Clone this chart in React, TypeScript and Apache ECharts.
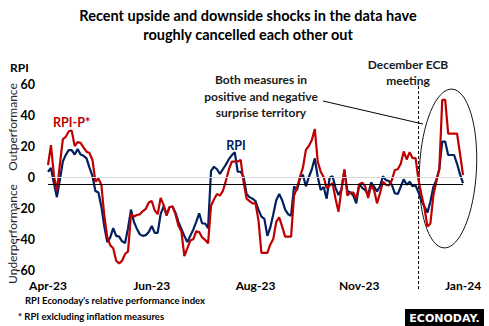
import React, { useEffect, useRef } from "react";
import * as echarts from "echarts";

const tickLabels = ["Apr-23", "Jun-23", "Aug-23", "Nov-23", "Jan-24"];
const tickIndex = [0, 35, 70, 105, 140];

// RPI (navy)
const rpi = [
  3.4, 5.8, -4, -13, -2, 10, 14.3, 17.4, 17.4, 14.5,
  18, 14.5, 13.7, 12, 6, 0.5, -9, -10, -19, -32,
  -42, -39, -33, -38, -38.5, -41.5, -42.6, -33, -21, -29,
  -33.5, -37, -38, -37.5, -35.5, -31.6, -36, -36, -24, -19,
  -24, -19.5, -19, -23, -29, -33.5, -38, -42, -38, -34,
  -29, -23.4, -30, -30, -33, 4, 6.6, 5, 2, 5,
  8, 11.5, 14, 16, 3.4, 3.4, 0, -11, -13, -14,
  -15.5, -21, -25.6, -27, -38, -32.5, -24, -15, -11, -15,
  -21, -24, -25, -6, -8.5, -1, 1.5, -6, 0, 5,
  12, 0, -8.4, -6.5, -14, -0.5, 0.5, -7, -11.6, -8,
  4, -9, -10, -12, -17, -4.5, -7, -8.4, -11.5, -3.5,
  -6.2, -9.3, -6, 0.5, -2, -2.6, -5, -10.5, -11, -6.3,
  -1.5, -5, -3, -6, -5.5, -10, -15.5, -19, -23, -16,
  -6.5, -1.8, 5, 22.8, 22.8, 14.2, 14.2, 14.2, 8.5, 1.7,
  -4,
];

// RPI-P* (red)
const rpiP = [
  7.7, 20.6, 1, -9, 8, 24.3, 26, 29.5, 29.9, 20,
  22.5, 22, 19, 16.3, 15.5, 11, -3, -1, -5, -25,
  -39, -44, -46, -54, -55.7, -54, -49.7, -48, -24, -25.5,
  -24.5, -24, -22, -20.5, -16.5, -15.5, -21.5, -24, -13.5, -18,
  -25, -19.5, -19, -24, -31.5, -35, -51, -46, -41, -40.2,
  -35, -35.5, -39, -40.5, -42.8, -18.5, -14.5, -11, -12, -9,
  -2.5, 4.7, 9.9, 9.9, 10, 11, -3.5, -14, -15.5, -17,
  -17, -28, -49, -49, -49, -43.5, -40, -29, -26, -32,
  -38.5, -38.5, -38.5, -12, -7, 0, 6, 17.5, 20, 23.8,
  31, 10, 3.4, 0, -7.3, -5.5, -4, -14, -22.4, -8,
  5, -12, -10, -10, -14, -5, -3.6, -6, -13.5, -5.5,
  -8.4, -17, -10.5, -3, -5, -5.5, -2, 4.5, 5, 8.6,
  16.5, 11.3, 16, 12.1, 12.2, -2, -11.5, -20, -32, -30,
  -12, -3, 5, 49.7, 49.7, 28, 28, 28, 28, 15,
  1.3,
];

const categories = rpi.map((_, i) => String(i));
const ecbIndex = 125;
const zeroLine = 0;
const refLine = -4.5;

const FONT = "Lato, 'Open Sans', sans-serif";

export default function App() {
  const ref = useRef<HTMLDivElement>(null);
  useEffect(() => {
    document.body.style.margin = "0";
    if (!ref.current) return;
    const chart = echarts.init(ref.current, undefined, { renderer: "svg" });
    chart.setOption({
      animation: false,
      grid: { left: 48, right: 26, top: 84, bottom: 56 },
      xAxis: {
        type: "category",
        data: categories,
        boundaryGap: false,
        axisLine: { show: false },
        axisTick: { show: false },
        splitLine: { show: false },
        axisLabel: {
          interval: (i: number) => tickIndex.includes(i),
          formatter: (v: string) => {
            const k = tickIndex.indexOf(Number(v));
            return k >= 0 ? tickLabels[k] : "";
          },
          fontWeight: "bold",
          fontSize: 12,
          fontFamily: FONT,
          color: "#000",
          margin: 9,
        },
      },
      yAxis: {
        type: "value",
        min: -60,
        max: 60,
        interval: 20,
        splitLine: { show: false },
        axisLine: { show: false },
        axisTick: { show: false },
        axisLabel: {
          fontWeight: "bold",
          fontSize: 12.5,
          fontFamily: FONT,
          color: "#000",
          margin: 13,
        },
      },
      series: [
        {
          name: "RPI",
          type: "line",
          data: rpi,
          symbol: "none",
          lineStyle: { color: "#002060", width: 2.2 },
          z: 3,
          markLine: {
            silent: true,
            symbol: "none",
            label: { show: false },
            data: [
              { yAxis: zeroLine, lineStyle: { color: "#d9d9d9", width: 1.2, type: "solid" } },
              { yAxis: refLine, lineStyle: { color: "#000", width: 1.2, type: "solid" } },
            ],
          },
        },
        {
          name: "RPI-P*",
          type: "line",
          data: rpiP,
          symbol: "none",
          lineStyle: { color: "#C00000", width: 2.2 },
          z: 4,
        },
      ],
    });

    const pTop = chart.convertToPixel({ gridIndex: 0 }, [ecbIndex, 60]) as number[];
    const ex = pTop[0];
    const txt = (x: number, y: number, text: string, size: number, weight: string, fill: string, align = "center", rotation = 0) => ({
      type: "text",
      x,
      y,
      rotation,
      silent: true,
      style: { text, fontSize: size, fontWeight: weight, fontFamily: FONT, fill, align, verticalAlign: "middle" },
    });

    chart.setOption({
      graphic: [
        txt(248, 15, "Recent upside and downside shocks in the data have", 14.5, "bold", "#000"),
        txt(248, 34, "roughly cancelled each other out", 14.5, "bold", "#000"),
        txt(10, 67, "RPI", 12, "bold", "#000", "left"),
        txt(12, 127, "Outperformance", 12, "normal", "#262626", "center", Math.PI / 2),
        txt(12, 234, "Underperformance", 12, "normal", "#262626", "center", Math.PI / 2),
        txt(53, 122, "RPI-P*", 12.5, "bold", "#C00000", "left"),
        txt(236, 145, "RPI", 12.5, "bold", "#002060"),
        txt(261, 79, "Both measures in", 12, "bold", "#1a1a1a"),
        txt(261, 96, "positive and negative", 12, "bold", "#1a1a1a"),
        txt(261, 112, "surprise territory", 12, "bold", "#1a1a1a"),
        txt(408, 64, "December ECB", 12, "bold", "#1a1a1a"),
        txt(408, 80, "meeting", 12, "bold", "#1a1a1a"),
        {
          type: "line",
          silent: true,
          shape: { x1: ex, y1: 86, x2: ex, y2: 291 },
          style: { stroke: "#000", lineWidth: 1, lineDash: [3, 2] },
        },
        {
          type: "line",
          silent: true,
          shape: { x1: 323, y1: 101, x2: 423, y2: 124 },
          style: { stroke: "#000", lineWidth: 1 },
        },
        {
          type: "ellipse",
          silent: true,
          x: 448,
          y: 168.5,
          rotation: -0.05,
          shape: { cx: 0, cy: 0, rx: 28.5, ry: 79.5 },
          style: { fill: "none", stroke: "#000", lineWidth: 0.9 },
        },
        txt(25, 300, "RPI Econoday's relative performance index", 9.5, "bold", "#000", "left"),
        txt(18, 316, "* RPI exlcluding inflation measures", 9.5, "bold", "#000", "left"),
        {
          type: "rect",
          silent: true,
          shape: { x: 405, y: 309, width: 79, height: 17 },
          style: { fill: "#000" },
        },
        {
          type: "text",
          silent: true,
          x: 444.5,
          y: 318,
          style: {
            text: "ECONODAY.",
            fontSize: 11,
            fontWeight: "bold",
            fontFamily: "'DejaVu Sans', sans-serif",
            fill: "#fff",
            align: "center",
            verticalAlign: "middle",
          },
        },
      ],
    });

    return () => chart.dispose();
  }, []);
  return <div ref={ref} style={{ width: 489, height: 326 }} />;
}
